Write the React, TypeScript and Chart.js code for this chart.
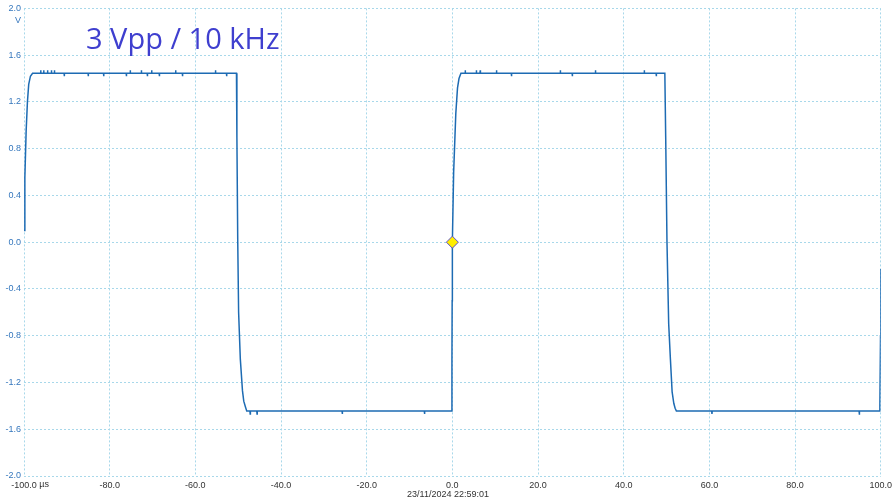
import React, { useEffect, useRef } from "react";
import { Chart, registerables } from "chart.js";

Chart.register(...registerables);

// ---- data (time in µs, voltage in V) ----
const TITLE = "3 Vpp / 10 kHz";
const TIMESTAMP = "23/11/2024 22:59:01";
const X_UNIT = "µs";
const Y_UNIT = "V";

const rise1: [number, number][] = [
  [-100, 0.1], [-99.8, 0.55], [-99.5, 0.95], [-99.2, 1.2], [-98.9, 1.35], [-98.5, 1.42], [-98.0, 1.445],
];
const high1: [number, number][] = [
  [-96.15, 1.445], [-96.1, 1.47], [-96.05, 1.445],
  [-95.45, 1.445], [-95.4, 1.47], [-95.35, 1.445],
  [-94.55, 1.445], [-94.5, 1.47], [-94.45, 1.445],
  [-93.65, 1.445], [-93.6, 1.47], [-93.55, 1.445],
  [-92.95, 1.445], [-92.9, 1.47], [-92.85, 1.445],
  [-90.65, 1.445], [-90.6, 1.42], [-90.55, 1.445],
  [-85.05, 1.445], [-85.0, 1.42], [-84.95, 1.445],
  [-81.45, 1.445], [-81.4, 1.42], [-81.35, 1.445],
  [-76.15, 1.445], [-76.1, 1.42], [-76.05, 1.445],
  [-75.25, 1.445], [-75.2, 1.47], [-75.15, 1.445],
  [-72.65, 1.445], [-72.6, 1.47], [-72.55, 1.445],
  [-71.25, 1.445], [-71.2, 1.42], [-71.15, 1.445],
  [-70.25, 1.445], [-70.2, 1.47], [-70.15, 1.445],
  [-68.45, 1.445], [-68.4, 1.42], [-68.35, 1.445],
  [-64.65, 1.445], [-64.6, 1.47], [-64.55, 1.445],
  [-63.05, 1.445], [-63.0, 1.42], [-62.95, 1.445],
  [-55.35, 1.445], [-55.3, 1.47], [-55.25, 1.445],
  [-52.75, 1.445], [-52.7, 1.42], [-52.65, 1.445],
];
const fall1: [number, number][] = [
  [-50.4, 1.445], [-50.3, 0.9], [-50.1, 0.0], [-49.9, -0.6], [-49.5, -1.0], [-49.0, -1.27],
  [-48.7, -1.36], [-48.3, -1.41], [-48.0, -1.445],
];
const low1: [number, number][] = [
  [-47.25, -1.445], [-47.2, -1.47], [-47.15, -1.445],
  [-45.65, -1.445], [-45.6, -1.47], [-45.55, -1.445],
  [-25.75, -1.445], [-25.7, -1.47], [-25.65, -1.445],
  [-6.55, -1.445], [-6.5, -1.47], [-6.45, -1.445],
];
const rise2: [number, number][] = [
  [-0.15, -1.445], [-0.1, -1.0], [-0.05, -0.5], [0, 0], [0.3, 0.6], [0.8, 1.1], [1.2, 1.32],
  [1.55, 1.4], [2.0, 1.445],
];
const high2: [number, number][] = [
  [2.95, 1.445], [3.0, 1.47], [3.05, 1.445],
  [5.55, 1.445], [5.6, 1.47], [5.65, 1.445],
  [6.45, 1.445], [6.5, 1.47], [6.55, 1.445],
  [10.25, 1.445], [10.3, 1.47], [10.35, 1.445],
  [13.75, 1.445], [13.8, 1.42], [13.85, 1.445],
  [25.15, 1.445], [25.2, 1.47], [25.25, 1.445],
  [27.95, 1.445], [28.0, 1.42], [28.05, 1.445],
  [33.35, 1.445], [33.4, 1.47], [33.45, 1.445],
  [44.75, 1.445], [44.8, 1.47], [44.85, 1.445],
  [47.55, 1.445], [47.6, 1.42], [47.65, 1.445],
];
const fall2: [number, number][] = [
  [49.6, 1.445], [49.8, 0.9], [50.1, 0.0], [50.5, -0.7], [50.9, -1.0], [51.3, -1.28],
  [51.7, -1.38], [52.0, -1.42], [52.3, -1.445],
];
const low2: [number, number][] = [
  [60.55, -1.445], [60.6, -1.47], [60.65, -1.445],
  [94.95, -1.445], [95.0, -1.475], [95.05, -1.445],
];
const rise3: [number, number][] = [
  [99.6, -1.445], [99.8, -1.4], [99.95, -0.8], [100, -0.23],
];
const marker: [number, number][] = [[0, 0]];

const X_MIN = -100, X_MAX = 100, X_STEP = 20;
const Y_MIN = -2, Y_MAX = 2, Y_STEP = 0.4;

const segments = [rise1, high1, fall1, low1, rise2, high2, fall2, low2, rise3];

export default function App() {
  const ref = useRef<HTMLCanvasElement | null>(null);

  useEffect(() => {
    document.body.style.margin = "0";
    const canvas = ref.current;
    if (!canvas) return;
    const trace = segments.flat().map(([x, y]) => ({ x, y }));

    const extras = {
      id: "extras",
      afterDraw(chart: any) {
        const ctx = chart.ctx;
        const xs = chart.scales.x;
        const ys = chart.scales.y;
        ctx.save();
        ctx.font = "9px 'Liberation Sans', Arial, sans-serif";
        ctx.fillStyle = "#3577bd";
        ctx.textAlign = "right";
        ctx.textBaseline = "middle";
        ctx.fillText(Y_UNIT, 21, ys.getPixelForValue(Y_MAX) + 12);
        ctx.fillStyle = "#333333";
        const firstLbl = (X_MIN).toFixed(1);
        const w = ctx.measureText(firstLbl).width;
        ctx.textAlign = "left";
        ctx.textBaseline = "top";
        const x0 = xs.getPixelForValue(X_MIN);
        ctx.fillText(" " + X_UNIT, x0 + w / 2, xs.top + 4);
        ctx.textAlign = "center";
        ctx.fillText(TIMESTAMP, 448, 490);
        ctx.restore();
      },
    };

    const chart = new Chart(canvas, {
      type: "scatter",
      data: {
        datasets: [
          {
            data: marker.map(([x, y]) => ({ x, y })),
            showLine: false,
            pointStyle: "rectRot",
            pointRadius: 6,
            backgroundColor: "#ffee00",
            borderColor: "#5a4fd0",
            borderWidth: 1,
          } as any,
          {
            data: trace,
            showLine: true,
            pointRadius: 0,
            borderColor: "#1d6bb3",
            borderWidth: 1.5,
            tension: 0,
          } as any,
        ],
      },
      options: {
        responsive: false,
        animation: false,
        layout: { padding: { top: 7, right: 15, left: 0, bottom: 0 } },
        plugins: { legend: { display: false }, tooltip: { enabled: false } },
        scales: {
          x: {
            type: "linear",
            min: X_MIN,
            max: X_MAX,
            border: { display: false, dash: [2, 2] },
            grid: { color: "#a8d8ea", lineWidth: 1, drawTicks: false },
            ticks: {
              stepSize: X_STEP,
              padding: 4,
              color: "#333333",
              font: { size: 9, family: "'Liberation Sans', Arial, sans-serif" },
              maxRotation: 0,
              autoSkip: false,
              callback: (v: any) => Number(v).toFixed(1),
            },
            afterFit: (s: any) => { s.height = 28; },
          } as any,
          y: {
            type: "linear",
            min: Y_MIN,
            max: Y_MAX,
            border: { display: false, dash: [2, 2] },
            grid: { color: "#a8d8ea", lineWidth: 1, drawTicks: false },
            ticks: {
              stepSize: Y_STEP,
              padding: 3,
              color: "#3577bd",
              font: { size: 9, family: "'Liberation Sans', Arial, sans-serif" },
              autoSkip: false,
              callback: (v: any) => Number(v).toFixed(1),
            },
            afterFit: (s: any) => { s.width = 24; },
          } as any,
        },
      },
      plugins: [extras],
    } as any);

    return () => chart.destroy();
  }, []);

  return (
    <div style={{ position: "relative", width: 896, height: 504, background: "#fff" }}>
      <canvas ref={ref} width={896} height={504} />
      <div
        style={{
          position: "absolute",
          left: 86,
          top: 21,
          fontFamily: "'Open Sans', 'Noto Sans', sans-serif",
          fontSize: 29,
          color: "#3f3fcf",
          lineHeight: "34px",
          whiteSpace: "nowrap",
        }}
      >
        {TITLE}
      </div>
    </div>
  );
}
